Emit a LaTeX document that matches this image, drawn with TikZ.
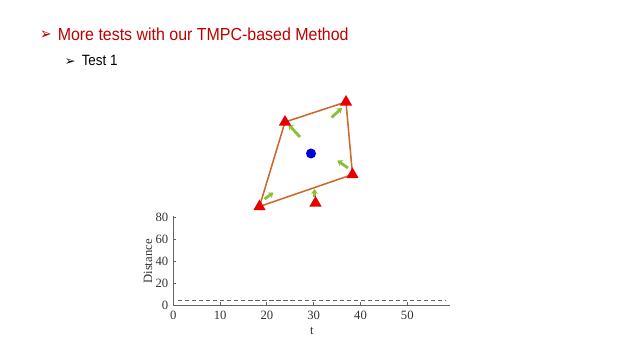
\documentclass[tikz,border=0pt]{standalone}
\usepackage{fontspec}
\setmainfont{Liberation Sans}
\newfontfamily\plotfont{Liberation Serif}
\newfontfamily\dingfont{DejaVu Sans}
\usetikzlibrary{shapes.geometric,arrows.meta}
\definecolor{titlered}{RGB}{192,0,0}
\definecolor{agentred}{RGB}{232,0,0}
\definecolor{linkorange}{RGB}{208,104,44}
\definecolor{velgreen}{RGB}{140,190,60}
\definecolor{axisgrey}{RGB}{100,100,100}
\tikzstyle{agent}=[regular polygon, regular polygon sides=3, fill=agentred, inner sep=0pt, minimum size=10pt]
\tikzstyle{link}=[linkorange, line width=1.1pt, line join=round]
\tikzstyle{vel}=[velgreen, line width=2pt, -{Stealth[length=3.5pt,width=5pt]}]
\tikzstyle{axisline}=[axisgrey, line width=0.6pt]
\tikzstyle{ticklabel}=[font=\plotfont\fontsize{9}{10}\selectfont, text=black!80, inner sep=1pt]

\begin{document}
\begin{tikzpicture}[x=0.025cm, y=-0.025cm]
	\fill[white] (0,0) rectangle (640,360);
	\useasboundingbox (0,0) rectangle (640,360);

	% headings
	\node[anchor=base west, text=titlered, font=\dingfont\fontsize{11.5}{13}\selectfont, inner sep=0pt, xscale=0.85] (b1) at (40,39.5) {➢};
	\node[anchor=base west, text=titlered, font=\fontsize{12.4}{14}\selectfont, inner sep=0pt, xscale=0.915] (title) at (57.5,40.5) {More tests with our TMPC-based Method};
	\node[anchor=base west, font=\dingfont\fontsize{9}{10}\selectfont, inner sep=0pt] (b2) at (64.5,65.5) {➢};
	\node[anchor=base west, font=\fontsize{10.6}{12}\selectfont, inner sep=0pt, xscale=0.9] (sub) at (81.5,65.5) {Test 1};

	% formation
	\coordinate (p1) at (285,122);
	\coordinate (p2) at (346,102);
	\coordinate (p3) at (352.5,174.5);
	\coordinate (p4) at (259.5,206.5);
	\coordinate (p5) at (315.5,203);

	\draw[link] (p1) -- (p2) -- (p3) -- (p4) -- cycle;

	\draw[vel] (300,137) -- (288.5,124.5);
	\draw[vel] (331.5,117.5) -- (342,108);
	\draw[vel] (348,168) -- (337.5,160.5);
	\draw[vel] (264.5,199) -- (273.5,192.5);
	\draw[vel] (314.5,197.5) -- (314.5,189);

	\node[agent] (a1) at (p1) {};
	\node[agent] (a2) at (p2) {};
	\node[agent] (a3) at (p3) {};
	\node[agent] (a4) at (p4) {};
	\node[agent] (a5) at (p5) {};

	\fill[blue!85!black] (311,153.5) circle [radius=5];

	% distance plot
	\coordinate (o) at (173.3,305);
	\coordinate (ytop) at (173.3,216.5);
	\coordinate (xend) at (449.5,305);
	\draw[axisline] (ytop) -- (o) -- (xend);
	\foreach \v in {0,20,...,80}{
		\draw[axisline] (173.3,{305-1.097*\v}) -- ++(3,0);
		\node[ticklabel, anchor=east] at (170,{305.5-1.097*\v}) {\v};
	}
	\foreach \v in {0,10,...,50}{
		\draw[axisline] ({173.3+4.68*\v},305) -- ++(0,-3);
		\node[ticklabel, anchor=north] at ({173.3+4.68*\v},309) {\v};
	}
	\node[ticklabel, rotate=90] (ylab) at (148,261.5) {Distance};
	\node[ticklabel] (xlab) at (312,331.5) {t};
	\draw[axisline, dash pattern=on 3pt off 2pt] (178,300.5) -- (446,300.5);
\end{tikzpicture}
\end{document}
